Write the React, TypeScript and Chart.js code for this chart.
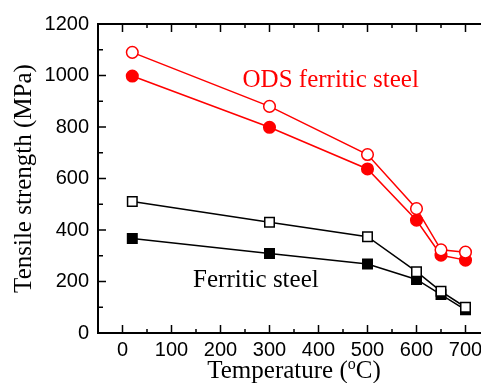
import React, { useEffect, useRef } from "react";
import { Chart, registerables } from "chart.js";

Chart.register(...registerables);

const temperatures = [20, 300, 500, 600, 650, 700];
const odsOpen = [1090, 880, 693, 483, 323, 314];
const odsFilled = [998, 799, 637, 438, 302, 283];
const ferriticOpen = [511, 430, 374, 238, 162, 100];
const ferriticFilled = [367, 309, 268, 208, 149, 90];

const xTickValues = [0, 100, 200, 300, 400, 500, 600, 700];
const yTickValues = [0, 200, 400, 600, 800, 1000, 1200];

const xTitleMain = "Temperature (";
const xTitleSup = "o";
const xTitleEnd = "C)";
const yTitle = "Tensile strength (MPa)";
const odsLabel = "ODS ferritic steel";
const ferriticLabel = "Ferritic steel";

const RED = "#ff0000";
const BLACK = "#000000";
const SERIF = "'Liberation Serif', 'Times New Roman', serif";
const SANS = "'Liberation Sans', Arial, sans-serif";

const pts = (vals: number[]) => temperatures.map((t, i) => ({ x: t, y: vals[i] }));

const framePlugin = {
  id: "frame",
  afterDraw(chart: any) {
    const { ctx, chartArea, scales } = chart;
    const { left, right, top, bottom } = chartArea;
    const xs = scales.x;
    const ys = scales.y;
    ctx.save();
    ctx.strokeStyle = BLACK;
    ctx.lineWidth = 2;
    ctx.beginPath();
    ctx.moveTo(left, top);
    ctx.lineTo(right, top);
    ctx.lineTo(right, bottom);
    ctx.lineTo(left, bottom);
    ctx.closePath();
    ctx.stroke();

    ctx.lineWidth = 1.5;
    ctx.beginPath();
    for (const v of xTickValues) {
      const px = xs.getPixelForValue(v);
      ctx.moveTo(px, bottom);
      ctx.lineTo(px, bottom - 8);
      ctx.moveTo(px, top);
      ctx.lineTo(px, top + 8);
    }
    for (const v of xTickValues) {
      const px = xs.getPixelForValue(v + 50);
      if (px >= right - 1) continue;
      ctx.moveTo(px, bottom);
      ctx.lineTo(px, bottom - 4);
      ctx.moveTo(px, top);
      ctx.lineTo(px, top + 4);
    }
    for (const v of yTickValues) {
      const py = ys.getPixelForValue(v);
      ctx.moveTo(left, py);
      ctx.lineTo(left + 8, py);
      ctx.moveTo(right, py);
      ctx.lineTo(right - 8, py);
    }
    for (const v of yTickValues) {
      if (v + 100 >= 1200) continue;
      const py = ys.getPixelForValue(v + 100);
      ctx.moveTo(left, py);
      ctx.lineTo(left + 5, py);
      ctx.moveTo(right, py);
      ctx.lineTo(right - 5, py);
    }
    ctx.stroke();

    ctx.textBaseline = "alphabetic";
    ctx.textAlign = "left";
    ctx.font = `25px ${SERIF}`;
    ctx.fillStyle = RED;
    ctx.fillText(odsLabel, xs.getPixelForValue(245), ys.getPixelForValue(955));
    ctx.fillStyle = BLACK;
    ctx.fillText(ferriticLabel, xs.getPixelForValue(144), ys.getPixelForValue(179));

    const mainFont = `25px ${SERIF}`;
    const supFont = `16px ${SERIF}`;
    ctx.font = mainFont;
    const w1 = ctx.measureText(xTitleMain).width;
    const w3 = ctx.measureText(xTitleEnd).width;
    ctx.font = supFont;
    const w2 = ctx.measureText(xTitleSup).width;
    const total = w1 + w2 + w3;
    const cx = (left + right) / 2;
    let sx = cx - total / 2;
    const baseY = 378;
    ctx.fillStyle = BLACK;
    ctx.font = mainFont;
    ctx.fillText(xTitleMain, sx, baseY);
    sx += w1;
    ctx.font = supFont;
    ctx.fillText(xTitleSup, sx, baseY - 9);
    sx += w2;
    ctx.font = mainFont;
    ctx.fillText(xTitleEnd, sx, baseY);
    ctx.restore();
  },
};

export default function App() {
  const ref = useRef<HTMLCanvasElement | null>(null);
  useEffect(() => {
    if (!ref.current) return;
    const lineDs = (label: string, vals: number[], color: string, style: string, filled: boolean, radius: number) => ({
      label,
      data: pts(vals),
      borderColor: color,
      backgroundColor: color,
      borderWidth: 1.5,
      pointStyle: style,
      pointRadius: radius,
      pointHoverRadius: radius,
      pointBorderWidth: 1.5,
      pointBorderColor: color,
      pointBackgroundColor: filled ? color : "#ffffff",
      tension: 0,
      fill: false,
    });
    const chart = new Chart(ref.current, {
      type: "line",
      data: {
        datasets: [
          lineDs("ODS open", odsOpen, RED, "circle", false, 5.8),
          lineDs("Ferritic open", ferriticOpen, BLACK, "rect", false, 6.7),
          lineDs("ODS filled", odsFilled, RED, "circle", true, 5.8),
          lineDs("Ferritic filled", ferriticFilled, BLACK, "rect", true, 6.7),
        ] as any,
      },
      options: {
        animation: false,
        responsive: false,
        layout: { autoPadding: false, padding: { top: 24, left: 0, right: 0, bottom: 0 } },
        plugins: { legend: { display: false }, tooltip: { enabled: false } },
        scales: {
          x: {
            type: "linear",
            min: -50,
            max: 750,
            grid: { display: false, drawTicks: false },
            border: { display: false },
            afterBuildTicks: (s: any) => {
              s.ticks = xTickValues.map((v) => ({ value: v }));
            },
            ticks: {
              padding: 5,
              color: BLACK,
              maxRotation: 0,
              autoSkip: false,
              callback: (v: any) => String(v),
              font: { family: SANS, size: 20 },
            },
            afterFit: (s: any) => {
              s.height = 50;
              s.paddingLeft = 0;
              s.paddingRight = 0;
            },
          },
          y: {
            type: "linear",
            min: 0,
            max: 1200,
            grid: { display: false, drawTicks: false },
            border: { display: false },
            afterBuildTicks: (s: any) => {
              s.ticks = yTickValues.map((v) => ({ value: v }));
            },
            ticks: {
              padding: 9,
              color: BLACK,
              autoSkip: false,
              callback: (v: any) => String(v),
              font: { family: SANS, size: 20 },
            },
            title: {
              display: true,
              text: yTitle,
              color: BLACK,
              font: { family: SERIF, size: 25, lineHeight: 1.2 },
              padding: { top: 9, bottom: 0 },
            },
            afterFit: (s: any) => {
              s.width = 98;
              s.paddingTop = 0;
              s.paddingBottom = 0;
            },
          },
        },
      } as any,
      plugins: [framePlugin],
    });
    return () => chart.destroy();
  }, []);
  return (
    <div
      style={{
        position: "fixed",
        left: 0,
        top: 0,
        width: 481,
        height: 383,
        overflow: "hidden",
        background: "#ffffff",
      }}
    >
      <canvas ref={ref} width={490} height={383} style={{ display: "block", width: 490, height: 383 }} />
    </div>
  );
}
